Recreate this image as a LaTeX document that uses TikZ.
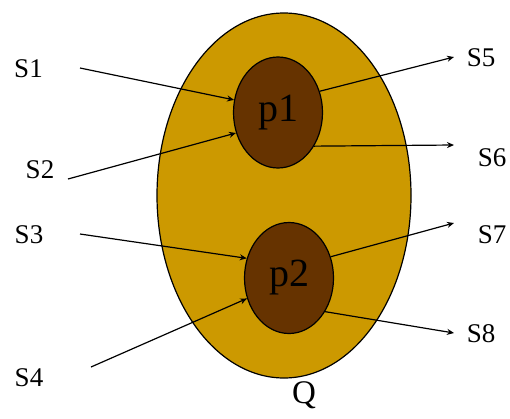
\documentclass[tikz,border=0pt]{standalone}
\usepackage{fontspec}
\setmainfont{Liberation Serif}
\usetikzlibrary{shapes.geometric,arrows.meta}

\definecolor{outergold}{HTML}{CC9900}
\definecolor{innerbrown}{HTML}{663300}

\tikzset{
  setlbl/.style={font=\fontsize{27}{27}\selectfont},
  proc/.style={ellipse, draw, line width=1.2pt, fill=innerbrown, inner sep=0pt,
    minimum width=89pt, minimum height=111pt, font=\fontsize{40}{40}\selectfont},
  flow/.style={line width=1.2pt, -{Stealth[length=7pt,width=6pt]}}
}

\begin{document}
\begin{tikzpicture}[x=1pt,y=-1pt]

  \useasboundingbox (0,0) rectangle (510,418);

  % Outer set
  \node[ellipse, draw, line width=1.2pt, fill=outergold, inner sep=0pt,
    minimum width=254pt, minimum height=365pt] (Q) at (284,195.5) {};
  \node[font=\fontsize{33}{33}\selectfont] (Qlbl) at (304,395) {Q};

  % Inner elements
  \node[proc] (p1) at (278,112.5) {p1};
  \node[proc] (p2) at (289,278) {p2};

  % Arrow tails and heads
  \coordinate (t1) at (80,68);
  \coordinate (t2) at (68,179);
  \coordinate (t3) at (80,234);
  \coordinate (t4) at (91,367);
  \coordinate (h5) at (454,57);
  \coordinate (h6) at (454,145);
  \coordinate (h7) at (454,223);
  \coordinate (h8) at (454,333);

  % Incoming
  \draw[flow] (t1) -- (p1.164);
  \draw[flow] (t2) -- (p1.206);
  \draw[flow] (t3) -- (p2.155);
  \draw[flow] (t4) -- (p2.206);

  % Outgoing
  \draw[flow] (p1.27) -- (h5);
  \draw[flow] (p1.317) -- (h6);
  \draw[flow] (p2.27) -- (h7);
  \draw[flow] (p2.317) -- (h8);

  % Labels
  \node[setlbl] (S1) at (28.5,69) {S1};
  \node[setlbl] (S2) at (40,170) {S2};
  \node[setlbl] (S3) at (29,235) {S3};
  \node[setlbl] (S4) at (29,378) {S4};
  \node[setlbl] (S5) at (481,58) {S5};
  \node[setlbl] (S6) at (492,158) {S6};
  \node[setlbl] (S7) at (492,235) {S7};
  \node[setlbl] (S8) at (481,334) {S8};

\end{tikzpicture}
\end{document}
